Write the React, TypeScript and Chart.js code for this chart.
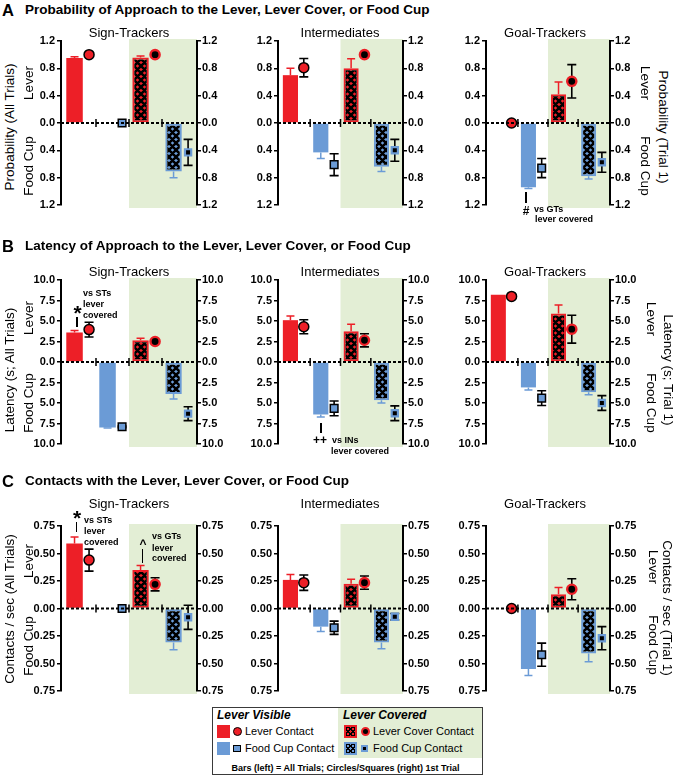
import React, { useEffect, useRef } from 'react';
import { Chart, registerables } from 'chart.js';

Chart.register(...registerables);

const FONT = '"Liberation Sans", Arial, Helvetica, sans-serif';
const RED = '#ed1f27';
const BLUE = '#6b9bd6';
const GREEN = '#e3eed5';
const BLACK = '#000000';

// ---------- categories / labels ----------
const CATEGORIES = ['Lever Visible: Lever', 'Lever Visible: Food Cup', 'Lever Covered: Lever Cover', 'Lever Covered: Food Cup'];
const DIRECTION = [1, -1, 1, -1]; // lever measures upward, food cup downward
const COVERED_FROM = 2; // first "lever covered" category
const GROUPS = ['Sign-Trackers', 'Intermediates', 'Goal-Trackers'];
const PANEL_LETTERS = ['A', 'B', 'C'];
const PANEL_TITLES = [
  'Probability of Approach to the Lever, Lever Cover, or Food Cup',
  'Latency of Approach to the Lever, Lever Cover, or Food Cup',
  'Contacts with the Lever, Lever Cover, or Food Cup',
];
const LEFT_TITLES = ['Probability (All Trials)', 'Latency (s; All Trials)', 'Contacts / sec (All Trials)'];
const RIGHT_TITLES = ['Probability (Trial 1)', 'Latency (s; Trial 1)', 'Contacts / sec (Trial 1)'];

// ---------- tick labels ----------
const PROB_TICKS = [-1.2, -0.8, -0.4, 0, 0.4, 0.8, 1.2];
const LAT_TICKS = [-10, -7.5, -5, -2.5, 0, 2.5, 5, 7.5, 10];
const CON_TICKS = [-0.75, -0.5, -0.25, 0, 0.25, 0.5, 0.75];
const TICK_DECIMALS = [1, 1, 2];

// ---------- A: probability ----------
const PROB_ST_ALL = [0.95, 0, 0.96, 0.71];
const PROB_ST_ALL_SEM = [0.02, 0, 0.02, 0.09];
const PROB_ST_T1 = [1.0, 0, 1.0, 0.43];
const PROB_ST_T1_SEM = [0, 0, 0, 0.19];
const PROB_IN_ALL = [0.70, 0.43, 0.80, 0.64];
const PROB_IN_ALL_SEM = [0.10, 0.09, 0.14, 0.07];
const PROB_IN_T1 = [0.81, 0.61, 1.0, 0.40];
const PROB_IN_T1_SEM = [0.135, 0.16, 0, 0.16];
const PROB_GT_ALL = [0, 0.94, 0.42, 0.78];
const PROB_GT_ALL_SEM = [0, 0.02, 0.18, 0.04];
const PROB_GT_T1 = [0, 0.66, 0.61, 0.575];
const PROB_GT_T1_SEM = [0, 0.14, 0.245, 0.145];

// ---------- B: latency ----------
const LAT_ST_ALL = [3.6, 8.0, 2.65, 3.9];
const LAT_ST_ALL_SEM = [0.25, 0.05, 0.25, 0.6];
const LAT_ST_T1 = [3.95, 7.9, 2.5, 6.3];
const LAT_ST_T1_SEM = [0.9, 0.1, 0.1, 0.85];
const LAT_IN_ALL = [5.1, 6.4, 3.75, 4.65];
const LAT_IN_ALL_SEM = [0.5, 0.3, 0.85, 0.35];
const LAT_IN_T1 = [4.3, 5.65, 2.65, 6.25];
const LAT_IN_T1_SEM = [0.85, 0.9, 0.8, 0.9];
const LAT_GT_ALL = [8.2, 3.1, 5.9, 3.7];
const LAT_GT_ALL_SEM = [0, 0.3, 1.05, 0.3];
const LAT_GT_T1 = [8.0, 4.4, 4.0, 5.0];
const LAT_GT_T1_SEM = [0.1, 0.9, 1.7, 0.9];

// ---------- C: contacts ----------
const CON_ST_ALL = [0.59, 0, 0.35, 0.31];
const CON_ST_ALL_SEM = [0.06, 0, 0.04, 0.065];
const CON_ST_T1 = [0.44, 0, 0.22, 0.08];
const CON_ST_T1_SEM = [0.10, 0, 0.06, 0.11];
const CON_IN_ALL = [0.26, 0.165, 0.225, 0.31];
const CON_IN_ALL_SEM = [0.05, 0.045, 0.04, 0.055];
const CON_IN_T1 = [0.235, 0.175, 0.235, 0.075];
const CON_IN_T1_SEM = [0.07, 0.06, 0.06, 0.03];
const CON_GT_ALL = [0, 0.55, 0.13, 0.41];
const CON_GT_ALL_SEM = [0, 0.06, 0.06, 0.075];
const CON_GT_T1 = [0, 0.42, 0.175, 0.27];
const CON_GT_T1_SEM = [0, 0.105, 0.095, 0.105];

const ROW_TICKS = [PROB_TICKS, LAT_TICKS, CON_TICKS];
const ROW_DATA = [
  [
    [PROB_ST_ALL, PROB_ST_ALL_SEM, PROB_ST_T1, PROB_ST_T1_SEM],
    [PROB_IN_ALL, PROB_IN_ALL_SEM, PROB_IN_T1, PROB_IN_T1_SEM],
    [PROB_GT_ALL, PROB_GT_ALL_SEM, PROB_GT_T1, PROB_GT_T1_SEM],
  ],
  [
    [LAT_ST_ALL, LAT_ST_ALL_SEM, LAT_ST_T1, LAT_ST_T1_SEM],
    [LAT_IN_ALL, LAT_IN_ALL_SEM, LAT_IN_T1, LAT_IN_T1_SEM],
    [LAT_GT_ALL, LAT_GT_ALL_SEM, LAT_GT_T1, LAT_GT_T1_SEM],
  ],
  [
    [CON_ST_ALL, CON_ST_ALL_SEM, CON_ST_T1, CON_ST_T1_SEM],
    [CON_IN_ALL, CON_IN_ALL_SEM, CON_IN_T1, CON_IN_T1_SEM],
    [CON_GT_ALL, CON_GT_ALL_SEM, CON_GT_T1, CON_GT_T1_SEM],
  ],
];

// ---------- layout ----------
const COLS = [
  { left: 61, right: 197 },
  { left: 278, right: 403 },
  { left: 486, right: 610 },
];
const ROWS = [
  { top: 41, bottom: 205 },
  { top: 280, bottom: 444 },
  { top: 526, bottom: 691 },
];
const AXIS_W = 32;
const PAD = 10;
const X_MIN = -0.56;
const X_MAX = 3.56;
const BAR_SHIFT = -0.15;
const POINT_SHIFT = 0.29;

function makePattern(color: string) {
  const c = document.createElement('canvas');
  c.width = 7;
  c.height = 7;
  const g = c.getContext('2d') as CanvasRenderingContext2D;
  g.fillStyle = color;
  g.fillRect(0, 0, 7, 7);
  g.strokeStyle = BLACK;
  g.lineWidth = 2.5;
  g.beginPath();
  for (const d of [-7, 0, 7]) {
    g.moveTo(d - 7, -7);
    g.lineTo(d + 14, 14);
    g.moveTo(d + 14, -7);
    g.lineTo(d - 7, 14);
  }
  g.stroke();
  return g.createPattern(c, 'repeat') as CanvasPattern;
}

function drawErrors(chart: any, index: number) {
  const ds = chart.data.datasets[index];
  const meta = chart.getDatasetMeta(index);
  const ys = chart.scales[meta.yAxisID];
  const ctx = chart.ctx;
  const isBar = ds.errKind === 'bar';
  ctx.save();
  ctx.lineWidth = isBar ? 1.5 : 1.6;
  meta.data.forEach((el: any, i: number) => {
    const e = ds.sem[i];
    const v = ds.data[i].y;
    if (!e) return;
    let from: number;
    let to: number;
    if (isBar) {
      if (!v) return;
      from = v;
      to = v + Math.sign(v) * e;
    } else {
      from = v - e;
      to = v + e;
    }
    const half = isBar ? 4 : 4.5;
    const y1 = ys.getPixelForValue(from);
    const y2 = ys.getPixelForValue(to);
    ctx.strokeStyle = ds.errColor[i];
    ctx.beginPath();
    ctx.moveTo(el.x, y1);
    ctx.lineTo(el.x, y2);
    ctx.moveTo(el.x - half, y2);
    ctx.lineTo(el.x + half, y2);
    if (!isBar) {
      ctx.moveTo(el.x - half, y1);
      ctx.lineTo(el.x + half, y1);
    }
    ctx.stroke();
  });
  ctx.restore();
}

const errorBarPlugin = {
  id: 'errorBars',
  beforeDatasetDraw(chart: any, args: any) {
    const ds = chart.data.datasets[args.index];
    if (ds.errKind === 'point') drawErrors(chart, args.index);
  },
  afterDatasetDraw(chart: any, args: any) {
    const ds = chart.data.datasets[args.index];
    if (ds.errKind === 'bar') drawErrors(chart, args.index);
  },
};

const decorPlugin = {
  id: 'decor',
  beforeDraw(chart: any) {
    const { ctx, chartArea: a, scales } = chart;
    const gx = scales.x.getPixelForValue(COVERED_FROM - 0.5);
    ctx.save();
    ctx.fillStyle = GREEN;
    ctx.fillRect(gx, a.top - 2, a.right - gx, a.bottom - a.top + 5);
    ctx.restore();
  },
  afterDraw(chart: any) {
    const { ctx, chartArea: a, scales } = chart;
    const y0 = scales.y.getPixelForValue(0);
    ctx.save();
    ctx.strokeStyle = BLACK;
    ctx.lineWidth = 2;
    ctx.setLineDash([3, 2]);
    ctx.beginPath();
    ctx.moveTo(a.left, y0);
    ctx.lineTo(a.right, y0);
    ctx.stroke();
    ctx.setLineDash([]);
    ctx.lineWidth = 1.5;
    ctx.beginPath();
    for (let i = 0; i < CATEGORIES.length - 1; i++) {
      const px = scales.x.getPixelForValue(i + 0.5);
      ctx.moveTo(px, y0 - 4);
      ctx.lineTo(px, y0 + 4);
    }
    ctx.stroke();
    ctx.restore();
  },
};

type PanelProps = {
  col: { left: number; right: number };
  row: { top: number; bottom: number };
  ticks: number[];
  decimals: number;
  series: number[][];
};

function Panel({ col, row, ticks, decimals, series }: PanelProps) {
  const ref = useRef<HTMLCanvasElement>(null);
  const plotW = col.right - col.left;
  const plotH = row.bottom - row.top;
  const width = plotW + 2 * AXIS_W;
  const height = plotH + 2 * PAD;

  useEffect(() => {
    const canvas = ref.current;
    if (!canvas) return;
    const [all, allSem, t1, t1Sem] = series;
    const redPat = makePattern(RED);
    const bluePat = makePattern(BLUE);
    const yMin = ticks[0];
    const yMax = ticks[ticks.length - 1];
    const yAxis = (position: string, padding: number) => ({
      type: 'linear',
      position,
      min: yMin,
      max: yMax,
      afterBuildTicks: (s: any) => {
        s.ticks = ticks.map((value) => ({ value }));
      },
      afterFit: (s: any) => {
        s.width = AXIS_W;
      },
      ticks: {
        autoSkip: false,
        padding,
        color: BLACK,
        font: { family: FONT, size: 11, weight: 'bold' },
        callback: (v: any) => Math.abs(Number(v)).toFixed(decimals),
      },
      grid: {
        drawOnChartArea: false,
        drawTicks: true,
        tickLength: 4,
        tickWidth: 1.5,
        tickColor: BLACK,
        color: BLACK,
        lineWidth: 1.5,
      },
      border: { display: true, color: BLACK, width: 2 },
    });

    const chart = new Chart(canvas, {
      type: 'bar',
      data: {
        datasets: [
          {
            type: 'line',
            label: 'Trial 1',
            data: t1.map((v, i) => ({ x: i + POINT_SHIFT, y: v * DIRECTION[i] })),
            yAxisID: 'y1',
            showLine: false,
            pointStyle: ['circle', 'rect', 'circle', 'rect'],
            pointRadius: [5, 5.4, 4.6, 4.4],
            pointBackgroundColor: [RED, BLUE, BLACK, BLACK],
            pointBorderColor: [BLACK, BLACK, RED, BLUE],
            pointBorderWidth: [1.5, 1.5, 2.4, 2.2],
            errKind: 'point',
            sem: t1Sem,
            errColor: [BLACK, BLACK, BLACK, BLACK],
          } as any,
          {
            type: 'bar',
            label: 'All Trials',
            data: all.map((v, i) => ({ x: i + BAR_SHIFT, y: v * DIRECTION[i] })),
            yAxisID: 'y',
            backgroundColor: [RED, BLUE, redPat, bluePat],
            borderColor: [RED, BLUE, RED, BLUE],
            borderWidth: [0, 0, 2, 2],
            borderSkipped: false,
            inflateAmount: 0,
            categoryPercentage: 1,
            barPercentage: 0.5,
            errKind: 'bar',
            sem: allSem,
            errColor: [RED, BLUE, RED, BLUE],
          } as any,
        ],
      },
      options: {
        animation: false,
        responsive: false,
        events: [],
        layout: { padding: { top: PAD, bottom: PAD, left: 0, right: 0 } },
        plugins: { legend: { display: false }, tooltip: { enabled: false } },
        scales: {
          x: {
            type: 'linear',
            display: false,
            min: X_MIN,
            max: X_MAX,
            offset: false,
            afterBuildTicks: (s: any) => {
              s.ticks = [-0.5, 0.5, 1.5, 2.5, 3.5].map((value) => ({ value }));
            },
          },
          y: yAxis('left', 2),
          y1: yAxis('right', 1),
        } as any,
      },
      plugins: [decorPlugin, errorBarPlugin],
    } as any);
    return () => chart.destroy();
  }, []);

  return (
    <canvas
      ref={ref}
      width={width}
      height={height}
      style={{ position: 'absolute', left: col.left - AXIS_W, top: row.top - PAD, width, height }}
    />
  );
}

type TxtProps = {
  x: number;
  y: number;
  s: string;
  size?: number;
  bold?: boolean;
  italic?: boolean;
  anchor?: 'left' | 'center' | 'right';
  rot?: number;
};

function Txt({ x, y, s, size = 13.5, bold = false, italic = false, anchor = 'left', rot = 0 }: TxtProps) {
  const tx = anchor === 'left' ? '0%' : anchor === 'center' ? '-50%' : '-100%';
  return (
    <div
      style={{
        position: 'absolute',
        left: x,
        top: y,
        transform: `translate(${tx}, -50%) rotate(${rot}deg)`,
        fontFamily: FONT,
        fontSize: size,
        fontWeight: bold ? 700 : 400,
        fontStyle: italic ? 'italic' : 'normal',
        lineHeight: 1,
        whiteSpace: 'nowrap',
        color: BLACK,
      }}
    >
      {s}
    </div>
  );
}

function VLine({ x, y1, y2 }: { x: number; y1: number; y2: number }) {
  return <div style={{ position: 'absolute', left: x - 0.6, top: y1, width: 1.2, height: y2 - y1, background: BLACK }} />;
}

const TITLE_Y = [9.5, 245.5, 481];
const SUB_Y = [31.5, 270.5, 503];
const SUB_X = [129, 340, 545];
const LEFT_POS = [
  { title: 127, lever: 83, food: 166 },
  { title: 370, lever: 318, food: 403 },
  { title: 609, lever: 561, food: 646 },
];
const RIGHT_POS = [
  { x: 663, lx: 645, title: 127, lever: 83, food: 166 },
  { x: 668, lx: 651, title: 370, lever: 319, food: 403 },
  { x: 667, lx: 653, title: 608, lever: 567, food: 645 },
];

const patternCss = (color: string) =>
  `repeating-linear-gradient(45deg, #000 0 1.7px, transparent 1.7px 3.6px), repeating-linear-gradient(-45deg, #000 0 1.7px, transparent 1.7px 3.6px), ${color}`;

function Legend() {
  const sw = { position: 'absolute' as const, width: 12.5, height: 12.5, boxSizing: 'border-box' as const };
  return (
    <>
      <div style={{ position: 'absolute', left: 212, top: 707, width: 271, height: 68, border: '1px solid #3a3a3a', boxSizing: 'border-box', background: '#fff' }} />
      <div style={{ position: 'absolute', left: 338, top: 708, width: 144, height: 50, background: GREEN }} />
      <Txt x={217} y={714.5} s="Lever Visible" size={12} bold italic />
      <Txt x={343} y={714.5} s="Lever Covered" size={12} bold italic />

      <div style={{ ...sw, left: 217, top: 725, background: RED }} />
      <div style={{ position: 'absolute', left: 233, top: 726.5, width: 9, height: 9, borderRadius: '50%', background: RED, border: '1.5px solid #000', boxSizing: 'border-box' }} />
      <Txt x={245} y={731} s="Lever Contact" size={11} />

      <div style={{ ...sw, left: 217, top: 742, background: BLUE }} />
      <div style={{ position: 'absolute', left: 233, top: 744.5, width: 7.5, height: 7.5, background: BLUE, border: '1.5px solid #000', boxSizing: 'border-box' }} />
      <Txt x={245} y={748} s="Food Cup Contact" size={11} />

      <div style={{ ...sw, left: 344, top: 725, background: patternCss(RED), border: `2px solid ${RED}` }} />
      <div style={{ position: 'absolute', left: 360.5, top: 726.5, width: 9, height: 9, borderRadius: '50%', background: BLACK, border: `2.2px solid ${RED}`, boxSizing: 'border-box' }} />
      <Txt x={373} y={731} s="Lever Cover Contact" size={11} />

      <div style={{ ...sw, left: 344, top: 742, background: patternCss(BLUE), border: `2px solid ${BLUE}` }} />
      <div style={{ position: 'absolute', left: 360.5, top: 744.5, width: 7, height: 7, background: BLACK, border: `2px solid ${BLUE}`, boxSizing: 'border-box' }} />
      <Txt x={373} y={748} s="Food Cup Contact" size={11} />

      <Txt x={345.5} y={767.5} s="Bars (left) = All Trials; Circles/Squares (right) 1st Trial" size={9} bold anchor="center" />
    </>
  );
}

export default function App() {
  return (
    <div style={{ position: 'absolute', left: 0, top: 0, width: 675, height: 776, background: '#fff', overflow: 'hidden' }}>
      {ROWS.map((row, r) =>
        COLS.map((col, c) => (
          <Panel key={`${r}-${c}`} col={col} row={row} ticks={ROW_TICKS[r]} decimals={TICK_DECIMALS[r]} series={ROW_DATA[r][c]} />
        ))
      )}

      {PANEL_LETTERS.map((l, r) => (
        <React.Fragment key={l}>
          <Txt x={2} y={TITLE_Y[r]} s={l} size={16.5} bold />
          <Txt x={25} y={TITLE_Y[r]} s={PANEL_TITLES[r]} size={13.5} bold />
          {GROUPS.map((g, c) => (
            <Txt key={g} x={SUB_X[c]} y={SUB_Y[r]} s={g} size={13} anchor="center" />
          ))}
          <Txt x={10} y={LEFT_POS[r].title} s={LEFT_TITLES[r]} anchor="center" rot={-90} />
          <Txt x={29} y={LEFT_POS[r].lever} s="Lever" anchor="center" rot={-90} />
          <Txt x={29} y={LEFT_POS[r].food} s="Food Cup" anchor="center" rot={-90} />
          <Txt x={RIGHT_POS[r].x} y={RIGHT_POS[r].title} s={RIGHT_TITLES[r]} anchor="center" rot={90} />
          <Txt x={RIGHT_POS[r].lx} y={RIGHT_POS[r].lever} s="Lever" anchor="center" rot={90} />
          <Txt x={RIGHT_POS[r].lx} y={RIGHT_POS[r].food} s="Food Cup" anchor="center" rot={90} />
        </React.Fragment>
      ))}

      {/* A: Goal-Trackers annotation */}
      <VLine x={526} y1={192} y2={203} />
      <Txt x={526} y={210.5} s="#" size={12} bold anchor="center" />
      <Txt x={534} y={208.5} s="vs GTs" size={9} bold />
      <Txt x={535} y={219} s="lever covered" size={9} bold />

      {/* B: Sign-Trackers annotation */}
      <Txt x={77.5} y={312} s="*" size={21} bold anchor="center" />
      <VLine x={77} y1={317} y2={327} />
      <Txt x={83} y={293} s="vs STs" size={9} bold />
      <Txt x={83} y={303.5} s="lever" size={9} bold />
      <Txt x={83} y={314.5} s="covered" size={9} bold />

      {/* B: Intermediates annotation */}
      <VLine x={321} y1={423} y2={433} />
      <Txt x={320} y={440} s="++" size={12} bold anchor="center" />
      <Txt x={332} y={440} s="vs INs" size={9} bold />
      <Txt x={331} y={451} s="lever covered" size={9} bold />

      {/* C: Sign-Trackers annotations */}
      <Txt x={77} y={517} s="*" size={21} bold anchor="center" />
      <VLine x={76.5} y1={522} y2={532} />
      <Txt x={84} y={520} s="vs STs" size={9} bold />
      <Txt x={84} y={531} s="lever" size={9} bold />
      <Txt x={84} y={542} s="covered" size={9} bold />

      <Txt x={143} y={543.5} s="^" size={12} bold anchor="center" />
      <VLine x={142.7} y1={549} y2={563} />
      <Txt x={152} y={536} s="vs GTs" size={9} bold />
      <Txt x={152} y={547.5} s="lever" size={9} bold />
      <Txt x={152} y={558} s="covered" size={9} bold />

      <Legend />
    </div>
  );
}
